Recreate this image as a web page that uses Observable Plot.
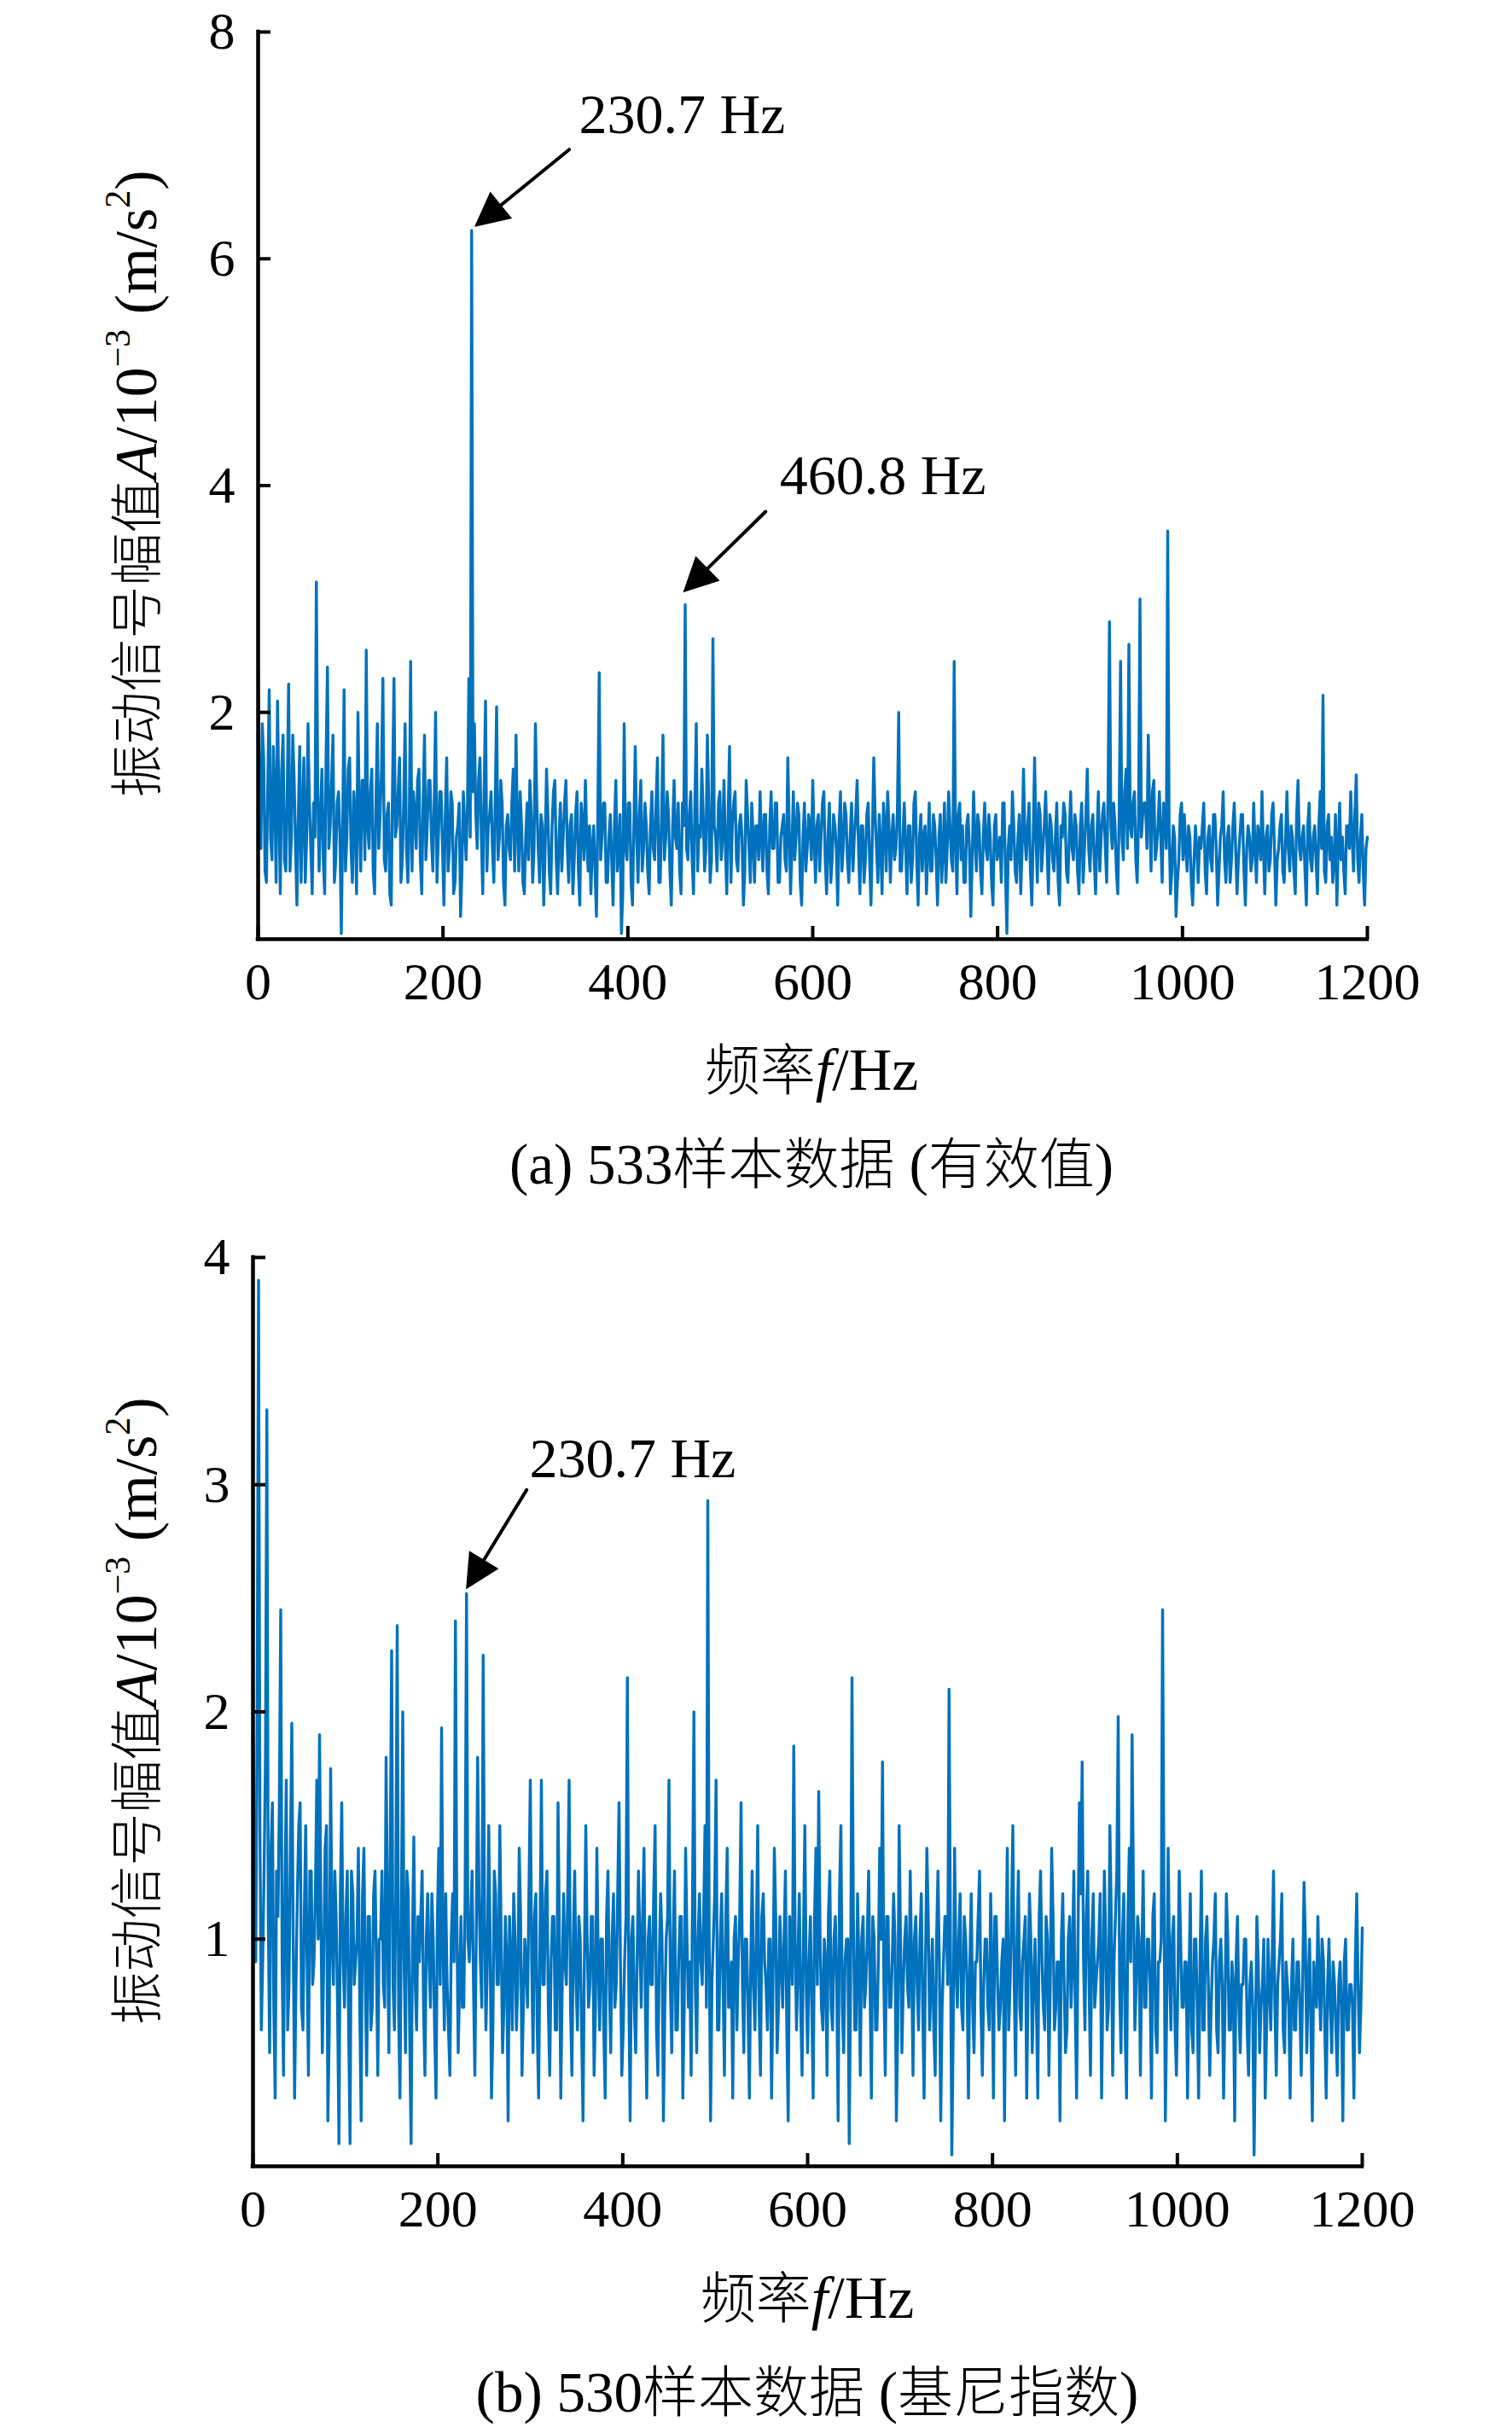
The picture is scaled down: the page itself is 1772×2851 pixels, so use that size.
<!DOCTYPE html>
<html><head><meta charset="utf-8">
<script src="https://cdn.jsdelivr.net/npm/d3@7"></script>
<script src="https://cdn.jsdelivr.net/npm/@observablehq/plot@0.6"></script>
<style>
html,body{margin:0;padding:0;background:#fff;}
#page{position:relative;width:1772px;height:2851px;overflow:hidden;background:#fff;}
.panel{position:absolute;left:0;}
.lab{position:absolute;font-family:"Liberation Serif","Times New Roman",serif;white-space:nowrap;line-height:1;color:#000;transform:translate(-50%,-50%);}
.cjk{font-family:"Noto Sans CJK SC",sans-serif;font-weight:300;}
.ylab{transform:translate(-50%,-50%) rotate(-90deg);font-size:70px;}
.ylab .cjk{font-size:62px;}
sup{font-size:0.6em;vertical-align:0.75em;line-height:0;}
.xlab{font-size:70px;}
.xlab .cjk{font-size:65px;}
.cap{font-size:67px;}
.cap .cjk{font-size:65px;}
</style></head>
<body><div id="page"></div>
<script>
// frequency spacing of the sampled spectrum (Hz); "Mid" arrays hold the bins halfway between
const freqStep = 3;
// (a) 533 sample, RMS-selected spectrum amplitude (10^-3 m/s^2), bins at 0, 3, 6 ... 1200 Hz
const rmsAmplitude = [
2.4,0.8,1.6,0.5,2.2,0.7,1.3,2.1,0.4,1.8,0.6,2.25,0.9,1.4,0.3,1.7,1.1,0.5,1.9,0.8,
1.2,3.15,0.6,1.5,0.4,2.4,1.0,1.8,0.7,1.3,0.05,2.2,0.9,1.6,0.5,1.1,2.0,0.6,1.4,2.55,
0.8,1.5,0.4,1.9,1.1,2.3,0.6,1.2,0.3,2.3,1.0,1.6,0.7,1.9,0.5,2.45,1.3,0.8,1.5,0.4,
1.8,1.0,1.4,0.6,2.0,0.9,1.3,0.3,1.6,0.8,1.2,0.5,1.0,0.2,1.3,0.7,2.3,6.25,1.9,0.8,
1.6,0.4,2.1,1.0,1.3,0.5,2.05,0.9,1.2,0.3,1.1,0.7,1.5,1.8,0.6,1.0,0.4,1.2,1.4,0.5,
1.9,0.8,1.1,0.3,1.5,0.6,1.0,1.4,0.4,1.2,0.9,1.4,0.5,1.1,0.7,1.3,0.3,1.0,1.4,0.6,
0.4,1.0,0.2,2.35,0.9,1.2,0.5,1.1,0.3,1.4,0.8,0.05,1.9,0.7,1.2,0.3,1.7,0.5,1.4,0.8,
1.0,0.4,1.3,0.7,1.6,0.5,1.8,0.9,1.1,0.3,1.4,0.8,0.6,1.2,2.95,0.7,1.3,0.4,1.9,1.0,
1.5,0.6,1.8,0.5,2.65,0.9,1.2,0.7,1.4,0.4,1.7,1.0,1.3,0.6,1.1,0.3,1.4,0.8,1.2,0.5,
1.0,1.3,0.6,1.1,0.4,1.3,0.8,1.2,0.5,1.0,0.7,1.6,0.4,1.3,0.9,1.1,0.3,1.2,0.8,1.0,
1.4,0.5,1.1,0.9,1.3,0.4,1.2,0.7,1.0,0.3,1.3,0.8,1.1,0.5,1.2,0.9,1.4,0.4,1.0,0.7,
1.2,0.3,1.6,0.8,1.1,0.4,1.0,1.3,0.5,1.1,0.8,2.0,0.6,1.2,0.4,1.0,0.7,1.3,0.3,1.1,
0.9,0.4,1.2,0.6,1.0,0.3,1.1,0.8,0.5,1.3,0.7,2.45,0.4,1.2,1.0,0.5,1.1,0.2,1.3,0.6,
1.0,0.4,1.2,0.7,0.9,0.3,1.1,0.8,0.5,1.2,0.05,1.0,1.3,0.6,0.9,0.4,1.5,0.7,1.2,0.3,
1.6,0.5,1.1,0.8,1.3,0.4,1.0,0.6,1.2,0.3,0.9,1.1,0.5,1.3,0.7,1.0,0.4,1.2,0.8,1.5,
0.6,1.1,0.4,1.3,0.9,1.2,0.5,2.8,0.8,1.0,0.4,2.45,0.7,1.5,2.6,0.9,1.3,0.5,3.0,1.1,
1.2,1.8,0.6,1.4,0.8,1.3,0.5,1.1,3.6,0.4,1.0,0.2,0.7,1.2,1.1,0.6,0.9,0.3,1.0,0.5,
0.8,1.2,0.4,1.0,0.6,1.1,0.3,0.9,1.3,0.5,1.0,0.7,1.2,0.4,0.9,1.1,0.3,1.0,0.6,1.2,
0.5,0.9,1.3,0.4,1.0,0.7,1.2,0.3,0.8,1.1,0.5,1.3,0.6,0.9,0.4,1.4,0.7,1.0,0.3,1.2,
0.6,1.0,0.4,1.3,2.15,0.5,1.1,0.9,0.7,0.3,1.2,0.9,0.4,1.0,1.3,0.6,1.45,0.5,1.1,0.3,
0.9
];
// (a) bins at 1.5, 4.5 ... 1198.5 Hz
const rmsAmplitudeMid = [
1.1,1.9,0.6,1.4,0.9,1.7,0.5,1.2,1.5,0.7,1.3,0.6,1.8,0.8,1.1,0.5,1.6,0.9,1.2,0.4,
0.9,1.3,1.1,0.7,1.6,0.8,1.4,0.5,1.2,0.9,1.0,0.6,1.5,0.8,1.3,0.4,1.1,1.4,0.7,1.0,
1.3,0.6,1.2,0.8,1.5,0.7,1.1,0.4,1.4,0.9,1.3,0.5,1.2,0.8,1.0,0.6,1.1,1.4,0.7,1.2,
0.7,1.4,0.9,1.2,0.5,1.3,0.8,1.1,0.6,1.3,0.4,0.9,1.2,0.6,1.0,1.2,0.9,1.3,1.1,1.4,
0.9,1.3,0.6,1.1,0.8,1.2,0.7,1.4,0.5,1.0,0.8,1.2,0.6,1.0,1.3,0.5,0.9,0.7,1.1,0.8,
1.2,0.5,1.0,0.8,1.1,0.4,1.3,0.7,0.9,0.6,1.2,0.8,1.0,0.4,1.1,0.6,1.2,0.7,0.9,1.0,
0.8,0.6,1.1,0.7,1.2,0.5,0.9,0.7,1.0,0.6,1.1,0.4,0.8,1.2,0.5,1.0,0.9,1.1,0.6,1.2,
0.6,1.0,0.8,1.2,0.5,1.1,0.7,1.3,0.6,1.0,0.9,1.2,0.4,1.0,0.8,1.1,0.7,1.2,0.6,0.9,
1.1,0.8,1.2,0.7,1.0,0.6,1.3,0.9,0.8,1.1,0.5,1.2,0.7,1.0,0.9,0.6,1.1,0.5,0.9,1.0,
0.7,0.9,1.1,0.6,1.0,0.8,1.2,0.5,0.9,1.1,0.6,1.0,0.8,0.7,1.2,0.5,0.9,0.6,1.1,0.7,
0.9,1.0,0.6,1.2,0.7,0.9,0.5,1.1,0.8,1.0,0.6,1.2,0.7,0.9,0.6,1.1,0.8,1.0,0.5,1.1,
0.7,0.9,1.1,0.5,0.8,1.2,0.6,1.0,0.9,0.7,1.1,0.6,0.9,0.8,1.0,0.5,1.2,0.7,0.9,0.6,
1.0,0.8,0.6,1.1,0.7,0.9,0.5,1.2,0.8,1.0,0.6,0.9,1.1,0.7,0.5,1.0,0.8,0.7,0.9,1.1,
0.6,0.9,0.8,1.1,0.5,1.0,0.7,0.9,1.2,0.6,0.8,0.7,1.0,0.5,1.1,0.8,0.9,1.0,0.6,0.9,
0.9,1.2,0.6,1.0,0.8,1.1,0.7,0.9,0.5,1.0,1.2,0.6,0.9,0.8,1.1,0.6,1.0,0.5,1.1,0.8,
1.0,0.7,0.9,0.6,1.1,0.8,1.3,1.0,1.2,0.6,1.1,0.9,1.3,0.8,1.0,1.2,0.7,1.1,0.9,1.2,
0.8,1.1,1.3,0.7,1.0,0.9,1.2,0.8,1.0,0.6,0.9,0.5,1.1,0.7,0.8,1.0,0.5,0.7,0.8,0.9,
1.0,0.6,0.9,0.7,1.1,0.8,0.6,1.0,0.7,0.9,0.5,1.0,0.8,0.7,1.1,0.6,0.8,0.9,0.7,0.8,
1.0,0.7,0.8,0.9,0.6,1.1,0.8,0.7,1.0,0.6,0.9,0.8,1.0,0.6,1.1,0.8,0.9,0.6,1.0,0.7,
0.9,0.7,1.0,0.8,0.6,1.0,0.7,0.5,1.1,0.8,0.7,0.6,1.0,0.8,0.9,1.1,0.7,0.9,0.6,0.8
];
// (b) 530 sample, Gini-index-selected spectrum amplitude (10^-3 m/s^2), bins at 0, 3 ... 1200 Hz
const giniAmplitude = [
1.9,0.9,3.9,0.6,1.3,3.33,0.5,1.6,0.3,1.1,2.45,0.4,1.7,0.8,1.95,0.3,1.2,1.6,0.6,1.5,
0.4,1.3,0.9,1.7,1.9,0.5,1.4,0.2,1.75,0.8,1.1,0.1,1.6,0.7,1.3,0.1,1.2,0.9,1.4,0.2,
1.4,0.4,1.1,0.7,1.3,0.4,1.0,0.8,1.8,0.5,2.27,0.6,2.38,0.3,2.0,0.5,1.2,0.1,1.45,0.6,
0.9,1.3,0.4,1.2,0.7,1.0,0.3,1.4,1.93,0.6,0.8,0.4,1.2,2.4,0.5,1.1,0.7,2.52,0.9,1.3,
0.4,1.8,0.9,2.25,0.6,1.5,0.3,1.3,0.8,1.5,0.5,1.1,0.2,0.9,1.2,0.6,1.4,0.4,1.0,0.7,
1.7,0.5,1.2,0.3,1.7,0.8,1.3,0.4,1.1,0.6,1.6,0.3,1.2,0.8,1.7,0.4,1.3,0.6,1.0,0.2,
1.5,0.7,1.1,0.4,1.4,0.6,1.0,0.3,1.3,0.5,1.2,0.8,1.6,0.4,0.9,2.15,0.2,1.1,0.5,1.3,
0.7,1.4,0.3,1.1,0.8,1.5,0.4,1.2,0.2,1.0,1.7,0.5,1.3,0.6,1.1,0.3,1.4,0.7,0.4,2.0,
0.5,1.2,0.8,1.5,2.93,0.2,1.0,1.7,0.6,1.2,0.4,1.4,0.7,0.3,1.1,0.9,1.6,0.5,1.0,0.3,
1.3,0.6,1.5,0.4,1.2,0.8,1.0,0.3,1.4,0.5,1.1,0.7,1.3,0.2,1.0,1.85,0.6,1.2,0.4,1.5,
0.5,1.1,0.3,1.4,1.65,0.7,1.0,0.4,1.3,0.6,1.1,0.2,1.5,0.5,1.0,0.1,2.15,0.6,1.2,0.4,
1.1,0.8,1.3,0.3,1.0,0.6,1.4,1.78,0.4,1.1,0.7,1.2,0.2,1.5,0.5,1.0,0.8,1.3,0.4,1.1,
0.6,1.2,0.3,1.4,0.6,1.0,0.4,1.3,0.2,0.9,1.1,2.1,0.05,1.4,0.7,1.2,0.6,1.0,0.3,1.2,
0.5,0.9,1.3,0.4,1.0,0.7,1.2,0.3,1.1,0.6,0.9,0.2,1.4,0.8,1.5,0.4,1.3,0.6,1.0,0.3,
1.2,0.5,1.0,0.3,1.3,0.7,1.1,0.4,1.4,0.6,0.9,0.2,1.2,0.5,1.0,0.7,1.3,0.3,1.6,1.78,
0.6,1.3,0.4,1.2,0.8,1.0,0.3,1.3,0.6,1.5,0.4,1.1,1.98,0.5,1.2,0.3,1.4,1.9,0.6,1.1,
0.4,1.3,0.7,1.0,0.3,1.2,0.5,0.9,2.45,0.2,1.4,0.6,1.1,0.4,1.3,0.7,0.9,0.3,1.2,0.5,
1.0,0.3,1.3,0.6,1.1,0.4,0.9,1.2,0.5,1.0,0.3,1.2,0.6,0.9,0.2,1.1,0.5,0.8,1.0,0.4,
0.9,0.05,1.1,0.5,0.8,0.3,1.0,0.6,1.3,0.4,0.9,1.2,0.5,0.8,0.3,1.0,0.6,0.9,0.4,1.25,
0.5,1.0,0.2,0.8,1.1,0.6,0.9,0.3,1.0,0.5,0.8,0.4,0.9,0.2,1.0,0.6,0.8,0.3,1.2,0.5,
1.05
];
// (b) bins at 1.5, 4.5 ... 1198.5 Hz
const giniAmplitudeMid = [
1.2,2.0,1.5,0.9,1.8,1.1,1.4,0.7,1.3,1.6,0.9,1.2,0.6,1.4,1.0,0.8,1.5,0.7,1.1,0.9,
1.3,0.8,1.2,1.0,1.1,0.9,1.5,0.6,1.0,1.3,0.7,1.2,0.9,1.1,0.6,1.3,0.8,1.0,0.7,1.2,
0.8,1.1,0.6,1.2,0.9,1.0,1.3,0.7,1.1,1.4,0.8,1.2,0.7,1.1,0.9,1.3,0.6,1.0,0.8,1.1,
1.1,0.7,1.0,0.9,1.2,0.6,1.1,0.8,1.0,1.2,0.6,1.0,0.9,1.1,0.8,0.7,1.2,1.0,1.1,0.8,
1.0,1.2,0.7,1.1,0.9,1.0,0.6,1.2,0.8,1.0,0.7,0.9,1.1,0.6,1.0,0.8,1.1,0.7,0.9,1.2,
0.9,1.1,0.6,1.0,0.8,1.2,0.7,0.9,1.1,0.6,1.0,0.8,0.9,1.2,0.7,1.0,0.8,1.1,0.6,0.9,
1.0,0.8,1.1,0.7,0.9,1.0,0.6,1.1,0.8,1.0,0.7,1.2,0.9,0.6,1.1,0.8,1.0,0.7,0.9,1.0,
1.1,0.7,1.0,0.8,1.2,0.6,0.9,1.0,0.7,1.1,0.8,1.0,0.6,0.9,1.1,0.7,1.0,0.9,1.2,0.8,
1.0,0.9,1.1,0.7,1.0,0.8,1.2,0.6,1.0,0.8,1.1,0.7,0.9,1.0,0.6,1.1,0.8,1.0,0.7,0.9,
0.8,1.0,0.7,1.1,0.9,0.6,1.0,0.8,1.1,0.7,0.9,1.0,0.6,1.1,0.8,1.0,0.9,0.7,1.0,0.8,
0.9,0.7,1.1,0.8,1.0,0.6,0.9,1.1,0.7,1.0,0.8,1.2,0.7,0.9,1.0,0.8,1.1,0.6,0.9,1.0,
0.7,1.0,0.8,1.1,0.6,0.9,1.0,0.8,1.1,0.7,0.9,1.0,0.6,1.0,0.8,1.1,0.7,0.9,1.0,0.8,
1.0,0.7,0.9,1.1,0.8,0.6,1.0,0.9,0.7,1.1,0.8,1.0,0.6,0.9,1.0,0.7,1.1,0.8,0.9,0.7,
0.9,1.1,0.7,0.8,1.0,0.6,0.9,1.1,0.8,0.7,1.0,0.9,0.6,1.1,0.8,1.0,0.7,0.9,1.1,0.8,
1.0,0.8,0.7,1.1,0.9,0.6,1.0,0.8,1.1,0.7,0.9,1.0,0.8,0.6,1.1,0.9,0.7,1.0,1.2,0.9,
1.1,0.8,1.0,0.7,0.9,1.2,0.8,1.0,0.7,1.1,0.9,1.3,0.8,1.0,0.6,1.1,0.9,1.2,0.8,1.0,
0.9,0.7,1.0,0.8,1.1,0.6,0.9,1.0,1.2,0.7,0.9,1.0,0.6,0.8,1.0,0.7,0.9,0.8,0.6,1.0,
0.7,0.9,0.6,1.0,0.8,0.7,1.0,0.6,0.9,0.8,0.7,1.0,0.6,0.8,0.9,0.7,0.8,1.0,0.6,0.8,
0.7,0.6,0.9,0.7,1.0,0.6,0.8,0.9,0.7,0.8,1.0,0.6,0.9,0.7,0.8,0.6,0.9,0.7,0.8,1.0,
0.8,0.6,0.9,0.7,0.8,1.0,0.6,0.8,0.7,0.9,0.6,0.8,0.7,0.9,0.6,0.8,0.7,0.9,0.8,0.7
];
const xTicks = [0, 200, 400, 600, 800, 1000, 1200];
const yTicksA = [2, 4, 6, 8];
const yTicksB = [1, 2, 3, 4];
const peakFreqA = [230.7, 460.8];
const peakAmpA = [6.25, 2.93];
const peakLabelA = ["230.7 Hz", "460.8 Hz"];
const peakFreqB = [230.7];
const peakAmpB = [2.52];
const peakLabelB = ["230.7 Hz"];

// layout (pixel offsets of arrows and labels relative to the annotated peak)
const layoutA = [
  {len: 139, rot: 230.8, tipDx: 7, tipDy: -7, textDx: 126, textDy: -135},
  {len: 131, rot: 225.6, tipDx: 2, tipDy: -20, textDx: 112, textDy: -153}
];
const layoutB = [
  {len: 132, rot: 211.4, tipDx: 2, tipDy: -9, textDx: 74, textDy: -158}
];

const arrowShape = {
  draw(ctx, l) {
    const h = 34, w = 17;
    ctx.moveTo(0, 0);
    ctx.lineTo(0, -l + h);
    ctx.moveTo(0, -l);
    ctx.lineTo(-w, -l + h);
    ctx.lineTo(w, -l + h);
    ctx.closePath();
  }
};

function annotationMarks(freqs, amps, labels, layout) {
  return freqs.flatMap((f, i) => {
    const d = [{f, a: amps[i], label: labels[i]}];
    const L = layout[i];
    return [
      Plot.vector(d, {x: "f", y: "a", length: L.len, rotate: L.rot, anchor: "end", shape: arrowShape,
        stroke: "black", fill: "black", strokeWidth: 4, strokeLinejoin: "miter", dx: L.tipDx, dy: L.tipDy}),
      Plot.text(d, {x: "f", y: "a", text: "label", textAnchor: "start", lineAnchor: "middle",
        fontSize: 66, fontFamily: "Liberation Serif", fill: "black", dx: L.textDx, dy: L.textDy})
    ];
  });
}

function spectrum(main, mid) {
  const pts = [];
  main.forEach((a, i) => {
    pts.push({f: i * freqStep, a});
    if (i < mid.length) pts.push({f: i * freqStep + freqStep / 2, a: mid[i]});
  });
  return pts;
}

function panel(series, yMax, yTicks, m, height, ann) {
  return Plot.plot({
    width: 1772, height,
    marginLeft: m.left, marginRight: m.right, marginTop: m.top, marginBottom: m.bottom,
    style: {fontFamily: '"Liberation Serif", serif', fontSize: "62px", color: "#000", background: "transparent", overflow: "visible"},
    x: {domain: [0, 1200]},
    y: {domain: [0, yMax]},
    marks: [
      Plot.lineY(series, {x: "f", y: "a", stroke: "#0072BD", strokeWidth: 3.4, strokeLinejoin: "round"}),
      Plot.ruleY([0], {strokeWidth: 4.5, strokeLinecap: "square"}),
      Plot.ruleX([0], {strokeWidth: 4.5, strokeLinecap: "square"}),
      Plot.axisX({ticks: xTicks, tickSize: -15, tickPadding: 41, strokeWidth: 4, tickFormat: d3.format("d"), label: null}),
      Plot.axisY({ticks: yTicks, tickSize: -15, tickPadding: 42, strokeWidth: 4, tickFormat: d3.format("d"), label: null}),
      ...ann
    ]
  });
}

const page = document.getElementById("page");
function place(node, top) {
  const wrap = document.createElement("div");
  wrap.className = "panel";
  wrap.style.top = top + "px";
  wrap.appendChild(node);
  page.appendChild(wrap);
}
function label(cls, html, x, y) {
  const d = document.createElement("div");
  d.className = "lab " + cls;
  d.innerHTML = html;
  d.style.left = x + "px";
  d.style.top = y + "px";
  page.appendChild(d);
}

place(panel(spectrum(rmsAmplitude, rmsAmplitudeMid), 8, yTicksA, {left: 302, right: 170, top: 37, bottom: 103}, 1203,
  annotationMarks(peakFreqA, peakAmpA, peakLabelA, layoutA)), 0);
place(panel(spectrum(giniAmplitude, giniAmplitudeMid), 4, yTicksB, {left: 296, right: 176, top: 73, bottom: 102}, 1240,
  annotationMarks(peakFreqB, peakAmpB, peakLabelB, layoutB)), 1400);

const yLabelHtml = '<span class="cjk">振动信号幅值</span><i>A</i>/10<sup>−3</sup> (m/s<sup>2</sup>)';
const xLabelHtml = '<span class="cjk">频率</span><i>f</i>/Hz';
label("ylab", yLabelHtml, 160, 567);
label("xlab", xLabelHtml, 951, 1253);
label("cap", '(a) 533<span class="cjk">样本数据</span> (<span class="cjk">有效值</span>)', 951, 1362);
label("ylab", yLabelHtml, 160, 2005);
label("xlab", xLabelHtml, 946, 2692);
label("cap", '(b) 530<span class="cjk">样本数据</span> (<span class="cjk">基尼指数</span>)', 946, 2801);
</script>
</body></html>
